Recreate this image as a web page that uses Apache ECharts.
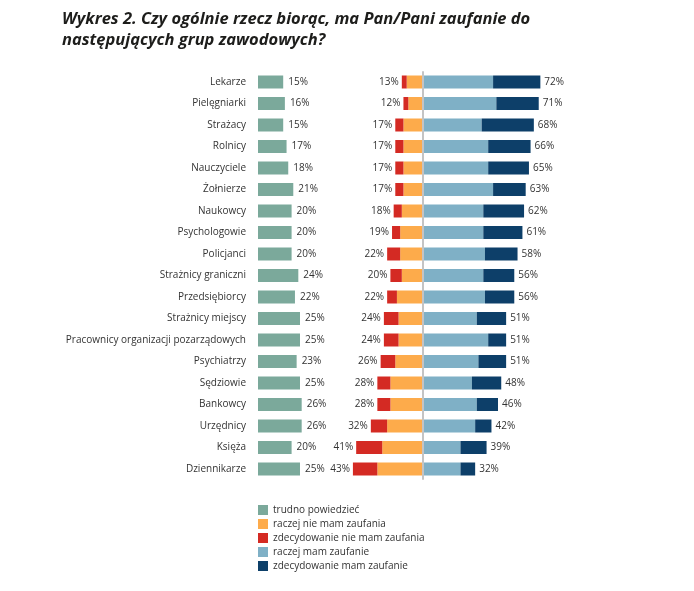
<!DOCTYPE html>
<html><head><meta charset="utf-8">
<script src="https://cdn.jsdelivr.net/npm/echarts@6/dist/echarts.min.js"></script>
<style>html,body{margin:0;padding:0;background:#fff}#c{width:694px;height:591px}</style>
</head><body><div id="c"></div>
<script>
const categories = ['Lekarze','Pielęgniarki','Strażacy','Rolnicy','Nauczyciele','Żołnierze','Naukowcy','Psychologowie','Policjanci','Strażnicy graniczni','Przedsiębiorcy','Strażnicy miejscy','Pracownicy organizacji pozarządowych','Psychiatrzy','Sędziowie','Bankowcy','Urzędnicy','Księża','Dziennikarze'];
const trudno = [15,16,15,17,18,21,20,20,20,24,22,25,25,23,25,26,26,20,25];
const raczejNie = [10,9,12,12,12,12,13,14,14,13,16,15,15,17,20,20,22,25,28];
const zdecNie = [3,3,5,5,5,5,5,5,8,7,6,9,9,9,8,8,10,16,15];
const raczejTak = [43,45,36,40,40,43,37,37,38,37,38,33,40,34,30,33,32,23,23];
const zdecTak = [29,26,32,26,25,20,25,24,20,19,18,18,11,17,18,13,10,16,9];
const negTotal = [13,12,17,17,17,17,18,19,22,20,22,24,24,26,28,28,32,41,43];
const posTotal = [72,71,68,66,65,63,62,61,58,56,56,51,51,51,48,46,42,39,32];
const seriesNames = ['trudno powiedzieć','raczej nie mam zaufania','zdecydowanie nie mam zaufania','raczej mam zaufanie','zdecydowanie mam zaufanie'];
const colors = ['#7ba99b','#fdab4b','#d42a23','#7fb0c6','#0d3f69'];

const FONT = 'Open Sans';
const txt = '#333333';
const gridTop = 71.25, bandH = 21.5, gridH = bandH * categories.length;

const chart = echarts.init(document.getElementById('c'), null, {renderer:'canvas'});
chart.setOption({
  animation: false,
  textStyle: {fontFamily: FONT},
  title: {
    text: 'Wykres 2. Czy ogólnie rzecz biorąc, ma Pan/Pani zaufanie do\nnastępujących grup zawodowych?',
    left: 57, top: 4,
    textStyle: {fontFamily: FONT, fontSize: 16.5, fontWeight: 'bold', fontStyle: 'italic', color: '#1d1d1b', lineHeight: 21}
  },
  legend: {
    orient: 'vertical', left: 253, top: 500,
    itemWidth: 10, itemHeight: 10, itemGap: 4, icon: 'rect',
    data: seriesNames,
    textStyle: {fontFamily: FONT, fontSize: 10, color: txt}
  },
  grid: [
    {left: 258, top: gridTop, width: 84, height: gridH},
    {left: 423 - 50*1.63, top: gridTop, width: 130*1.63, height: gridH}
  ],
  xAxis: [
    {gridIndex: 0, type: 'value', min: 0, max: 50, show: false},
    {gridIndex: 1, type: 'value', min: -50, max: 80, show: false}
  ],
  yAxis: [
    {gridIndex: 0, type: 'category', data: categories, inverse: true,
     axisLine: {show: false}, axisTick: {show: false}, splitLine: {show: false},
     axisLabel: {margin: 12, fontSize: 10, color: txt, fontFamily: FONT}},
    {gridIndex: 1, type: 'category', data: categories, inverse: true, show: false}
  ],
  series: [
    {name: seriesNames[0], type: 'bar', xAxisIndex: 0, yAxisIndex: 0, data: trudno, barWidth: 13,
     itemStyle: {color: colors[0]},
     label: {show: true, position: 'right', distance: 5, fontSize: 10, color: txt, fontFamily: FONT, formatter: p => p.value + '%'}},
    {name: seriesNames[1], type: 'bar', xAxisIndex: 1, yAxisIndex: 1, stack: 'div', data: raczejNie.map(v => -v), barWidth: 13,
     itemStyle: {color: colors[1]},
     markLine: {silent: true, symbol: 'none', label: {show: false},
       lineStyle: {color: '#c4c4c4', width: 2, type: 'solid'},
       data: [{xAxis: 0}]}},
    {name: seriesNames[2], type: 'bar', xAxisIndex: 1, yAxisIndex: 1, stack: 'div', data: zdecNie.map(v => -v), barWidth: 13,
     itemStyle: {color: colors[2]},
     label: {show: true, position: 'left', distance: 3, fontSize: 10, color: txt, fontFamily: FONT, formatter: p => negTotal[p.dataIndex] + '%'}},
    {name: seriesNames[3], type: 'bar', xAxisIndex: 1, yAxisIndex: 1, stack: 'div', data: raczejTak, barWidth: 13,
     itemStyle: {color: colors[3]}},
    {name: seriesNames[4], type: 'bar', xAxisIndex: 1, yAxisIndex: 1, stack: 'div', data: zdecTak, barWidth: 13,
     itemStyle: {color: colors[4]},
     label: {show: true, position: 'right', distance: 4, fontSize: 10, color: txt, fontFamily: FONT, formatter: p => posTotal[p.dataIndex] + '%'}}
  ]
});
</script>
</body></html>
